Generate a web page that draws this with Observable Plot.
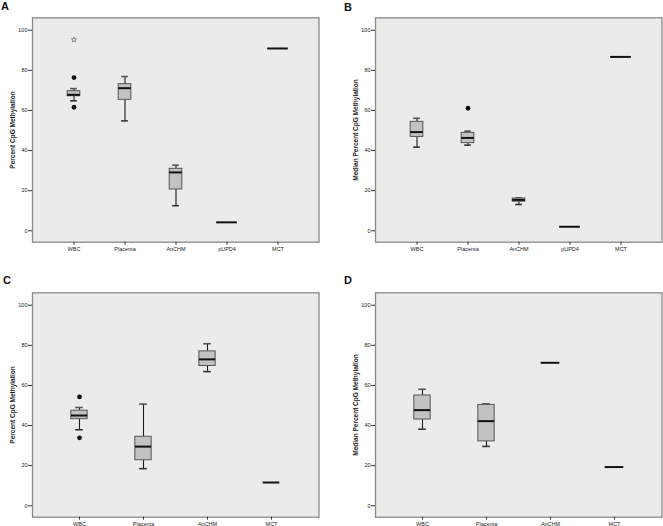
<!DOCTYPE html>
<html>
<head>
<meta charset="utf-8">
<script src="https://cdn.jsdelivr.net/npm/d3@7"></script>
<script src="https://cdn.jsdelivr.net/npm/@observablehq/plot@0.6"></script>
<style>
  html, body { margin: 0; padding: 0; background: #fff; overflow: hidden; }
  #fig { position: relative; width: 663px; height: 526px; background: #fff; }
  .panel { position: absolute; }
  .letter { position: absolute; font: bold 11px "Liberation Sans", Arial, sans-serif; color: #111; line-height: 1; }
</style>
</head>
<body>
<div id="fig"></div>
<script>
// ---------- data ----------
const categoriesAB = ["WBC", "Placenta", "AnCHM", "pUPD4", "MCT"];
const categoriesCD = ["WBC", "Placenta", "AnCHM", "MCT"];
const yTicks = [0, 20, 40, 60, 80, 100];

// Panel A: Percent CpG Methylation
const aLow    = [64.8, 54.8, 12.5, null, null];
const aQ1     = [67.1, 65.3, 20.6, null, null];
const aMedian = [67.8, 71.1, 29.1, null, null];
const aQ3     = [69.6, 73.1, 30.9, null, null];
const aHigh   = [70.9, 76.9, 32.7, null, null];
const aSingle = [null, null, null, 4.2, 90.9];
const aOutlierCats = ["WBC", "WBC"];
const aOutlierVals = [76.4, 61.6];
const aExtremeCats = ["WBC"];
const aExtremeVals = [95.3];

// Panel B: Median Percent CpG Methylation
const bLow    = [41.7, 42.7, 13.1, null, null];
const bQ1     = [46.8, 43.7, 14.5, null, null];
const bMedian = [49.2, 46.3, 15.4, null, null];
const bQ3     = [54.3, 48.8, 16.1, null, null];
const bHigh   = [56.1, 49.7, 16.4, null, null];
const bSingle = [null, null, null, 2.0, 86.7];
const bOutlierCats = ["Placenta"];
const bOutlierVals = [61.1];

// Panel C: Percent CpG Methylation
const cLow    = [37.9, 18.5, 66.9, null];
const cQ1     = [43.2, 22.7, 69.7, null];
const cMedian = [45.0, 29.5, 73.0, null];
const cQ3     = [47.4, 34.4, 77.0, null];
const cHigh   = [49.0, 50.7, 80.8, null];
const cSingle = [null, null, null, 11.6];
const cOutlierCats = ["WBC", "WBC"];
const cOutlierVals = [54.3, 33.9];

// Panel D: Median Percent CpG Methylation
const dLow    = [38.2, 29.6, null, null];
const dQ1     = [43.0, 32.1, null, null];
const dMedian = [47.7, 42.2, null, null];
const dQ3     = [55.0, 50.3, null, null];
const dHigh   = [58.1, 50.8, null, null];
const dSingle = [null, null, 71.3, 19.3];

// ---------- drawing ----------
const FRAME_W = 286.5;

function panel(cfg) {
  const rows = cfg.cats.map((c, i) => ({
    c, low: cfg.low[i], q1: cfg.q1[i], med: cfg.med[i], q3: cfg.q3[i], high: cfg.high[i], single: cfg.single[i]
  }));
  const boxes = rows.filter(d => d.q1 != null);
  const singles = rows.filter(d => d.single != null);
  const outliers = (cfg.oc || []).map((c, i) => ({c, v: cfg.ov[i]}));
  const extremes = (cfg.ec || []).map((c, i) => ({c, v: cfg.ev[i]}));
  const n = cfg.cats.length;
  const step = FRAME_W / (n + 2 * cfg.po);
  const boxIn = (step - cfg.boxW) / 2;
  const capIn = (step - cfg.capW) / 2;
  const lineIn = (step - cfg.lineW) / 2;
  return Plot.plot({
    width: 320,
    height: 263,
    marginLeft: 32,
    marginRight: 1.5,
    marginTop: 17.3,
    marginBottom: 21.3,
    x: {type: "band", domain: cfg.cats, paddingInner: 0, paddingOuter: cfg.po, label: null},
    y: {domain: [-5.7, 106.2], label: null},
    style: {background: "transparent", fontFamily: "'Liberation Sans', Arial, sans-serif", color: "#222"},
    marks: [
      Plot.frame({fill: "#ebebeb", stroke: "none"}),
      Plot.ruleX(boxes, {x: "c", y1: "low", y2: "q1", stroke: "#1a1a1a", strokeWidth: 1.1}),
      Plot.ruleX(boxes, {x: "c", y1: "q3", y2: "high", stroke: "#1a1a1a", strokeWidth: 1.1}),
      Plot.tickY(boxes, {x: "c", y: "low", insetLeft: capIn, insetRight: capIn, stroke: "#333", strokeWidth: 1.6}),
      Plot.tickY(boxes, {x: "c", y: "high", insetLeft: capIn, insetRight: capIn, stroke: "#555", strokeWidth: 1.6}),
      Plot.barY(boxes, {x: "c", y1: "q1", y2: "q3", insetLeft: boxIn, insetRight: boxIn, fill: "#c2c2c2", stroke: "#555", strokeWidth: 1}),
      Plot.tickY(boxes, {x: "c", y: "med", insetLeft: boxIn, insetRight: boxIn, stroke: "#111", strokeWidth: 2}),
      Plot.tickY(singles, {x: "c", y: "single", insetLeft: lineIn, insetRight: lineIn, stroke: "#111", strokeWidth: 2}),
      Plot.dot(outliers, {x: "c", y: "v", r: 2.4, fill: "#111", stroke: "none"}),
      Plot.dot(extremes, {x: "c", y: "v", symbol: "star", r: 1.7, fill: "none", stroke: "#777", strokeWidth: 0.8}),
      Plot.frame({stroke: "#8a8a8a", strokeWidth: 1.3}),
      Plot.axisY({ticks: yTicks, tickSize: 4, tickPadding: 1, fontSize: 5.5, label: null, line: true, stroke: "#333"}),
      Plot.axisX({tickSize: 3, tickPadding: 2, fontSize: 5.5, label: null, line: true, stroke: "#333"}),
      Plot.axisY({ticks: [], tickSize: 0, label: cfg.ylabel, labelAnchor: "center", labelArrow: "none", labelOffset: 22, fontSize: 6.5, fontWeight: "bold"})
    ]
  });
}

const fig = document.getElementById("fig");
function place(svg, left, top) {
  svg.classList.add("panel");
  svg.style.left = left + "px";
  svg.style.top = top + "px";
  fig.appendChild(svg);
}
function letter(t, left, top) {
  const d = document.createElement("div");
  d.className = "letter";
  d.textContent = t;
  d.style.left = left + "px";
  d.style.top = top + "px";
  fig.appendChild(d);
}

place(panel({cats: categoriesAB, low: aLow, q1: aQ1, med: aMedian, q3: aQ3, high: aHigh, single: aSingle,
  oc: aOutlierCats, ov: aOutlierVals, ec: aExtremeCats, ev: aExtremeVals,
  ylabel: "Percent CpG Methylation", po: 0.29, boxW: 13, capW: 7, lineW: 21}), 0, 0);
place(panel({cats: categoriesAB, low: bLow, q1: bQ1, med: bMedian, q3: bQ3, high: bHigh, single: bSingle,
  oc: bOutlierCats, ov: bOutlierVals,
  ylabel: "Median Percent CpG Methylation", po: 0.29, boxW: 13, capW: 7, lineW: 21}), 343, 0);
place(panel({cats: categoriesCD, low: cLow, q1: cQ1, med: cMedian, q3: cQ3, high: cHigh, single: cSingle,
  oc: cOutlierCats, ov: cOutlierVals,
  ylabel: "Percent CpG Methylation", po: 0.225, boxW: 16.7, capW: 8, lineW: 17}), 0, 275);
place(panel({cats: categoriesCD, low: dLow, q1: dQ1, med: dMedian, q3: dQ3, high: dHigh, single: dSingle,
  ylabel: "Median Percent CpG Methylation", po: 0.225, boxW: 16.7, capW: 8, lineW: 19}), 343, 275);

letter("A", 1, 1);
letter("B", 344, 2);
letter("C", 3, 275);
letter("D", 344, 275);
</script>
</body>
</html>
